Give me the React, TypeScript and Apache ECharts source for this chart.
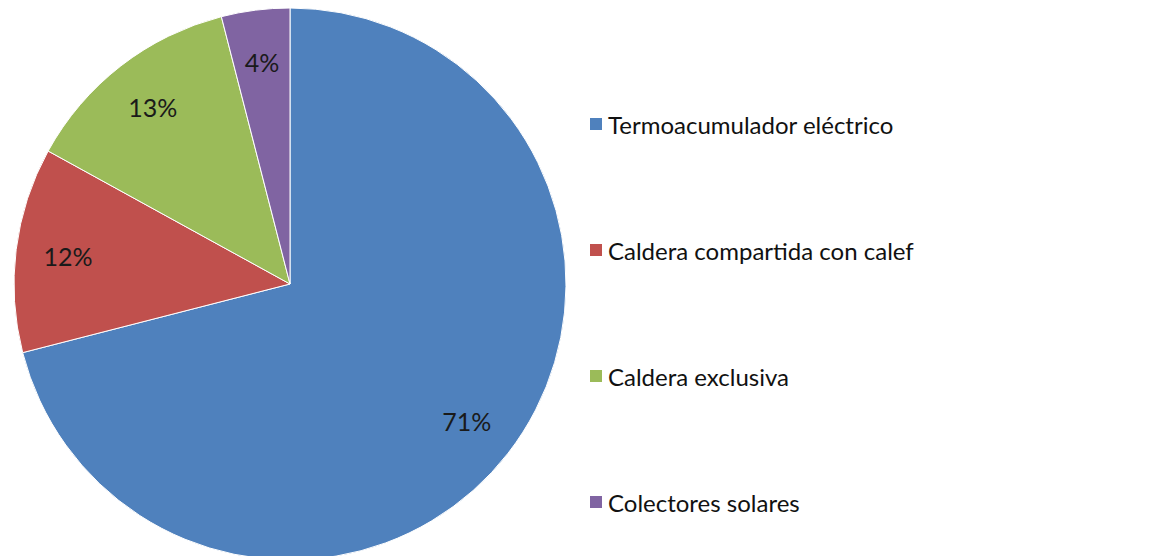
import React, { useEffect, useRef } from "react";
import * as echarts from "echarts";

const categories = [
  "Termoacumulador eléctrico",
  "Caldera compartida con calef",
  "Caldera exclusiva",
  "Colectores solares",
];
const values = [71, 12, 13, 4];
const colors = ["#4F81BD", "#C0504D", "#9BBB59", "#8064A2"];

export default function App() {
  const ref = useRef<HTMLDivElement>(null);
  useEffect(() => {
    if (!ref.current) return;
    const chart = echarts.init(ref.current, undefined, { renderer: "svg" });
    const data = categories.map((name, i) => ({
      name,
      value: values[i],
      itemStyle: { color: colors[i] },
    }));
    const R = 276;
    chart.setOption({
      animation: false,
      backgroundColor: "#ffffff",
      legend: {
        orient: "vertical",
        left: 583,
        top: 107,
        itemWidth: 14,
        itemHeight: 14,
        itemGap: 102,
        icon: "rect",
        textStyle: { fontFamily: "Lato", fontSize: 24, color: "#111", padding: [0, 0, 0, 0] },
        data: categories,
      },
      series: [
        {
          type: "pie",
          center: [290, 284],
          radius: [0, R],
          startAngle: 90,
          clockwise: true,
          label: { show: false },
          labelLine: { show: false },
          itemStyle: { borderColor: "#ffffff", borderWidth: 1 },
          data,
        },
        {
          type: "pie",
          center: [290, 284],
          radius: [R * 0.6, R],
          startAngle: 90,
          clockwise: true,
          silent: true,
          legendHoverLink: false,
          label: {
            show: true,
            position: "inside",
            formatter: "{c}%",
            fontFamily: "Lato",
            fontSize: 25,
            color: "#1a1a1a",
          },
          labelLine: { show: false },
          itemStyle: { color: "transparent", borderWidth: 0 },
          data: categories.map((name, i) => ({ name, value: values[i] })),
        },
      ],
    });
    return () => chart.dispose();
  }, []);
  return (
    <div
      ref={ref}
      style={{ position: "fixed", left: 0, top: 0, width: 1160, height: 556 }}
    />
  );
}
